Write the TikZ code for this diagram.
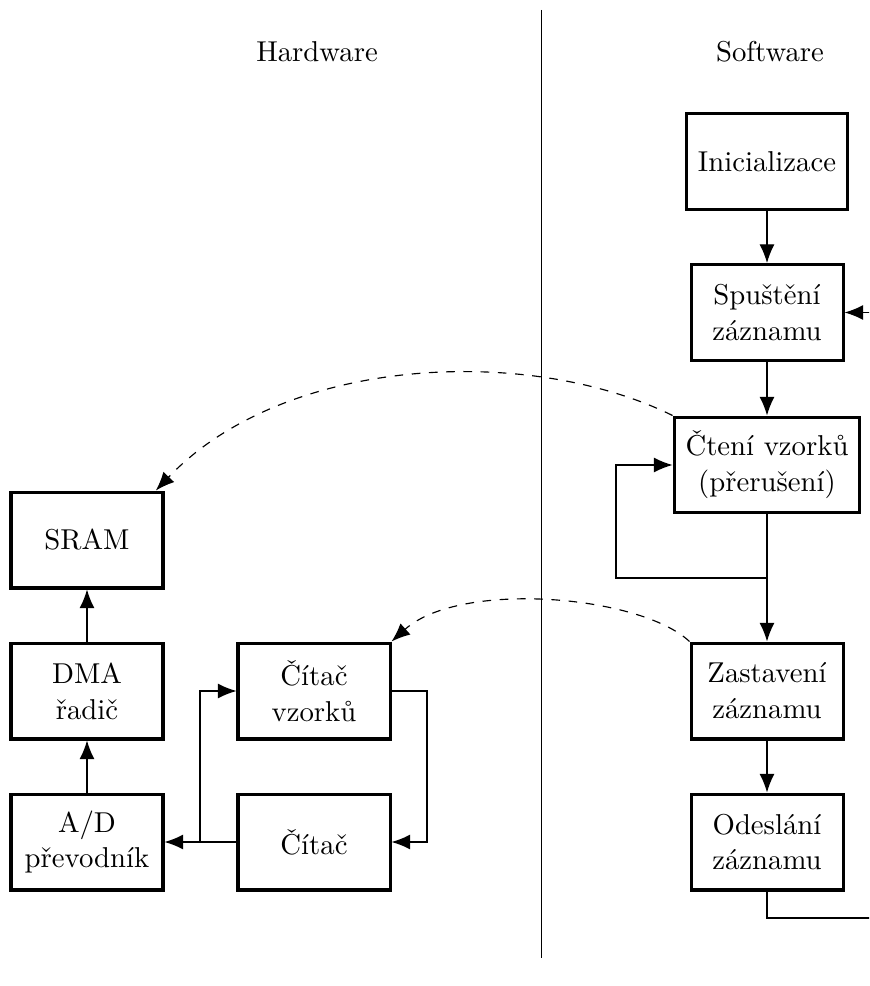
\documentclass[tikz,border=0pt]{standalone}
\usetikzlibrary{arrows.meta}
\begin{document}
\begin{tikzpicture}[x=0.348pt,y=-0.348pt,
  blok/.style={draw,line width=1.05pt,align=center,minimum width=52.9pt,minimum height=33.4pt,inner xsep=4pt,font=\fontsize{10}{12.5}\selectfont},
  sip/.style={-{Latex[length=6.5pt,width=5.2pt]},line width=0.4pt},
  cark/.style={dashed,line width=0.4pt,-{Latex[length=6.5pt,width=5.2pt]}}]
\clip (0,0) rectangle (869,986);
% divider
\coordinate (dtop) at (541,10);
\coordinate (dbot) at (541,958);
\draw[line width=0.35pt] (dtop) -- (dbot);
\node (hw) at (317,52) {Hardware};
\node (sw) at (770,52) {Software};
% software
\node[blok] (init) at (767,161.5) {Inicializace};
\node[blok] (spust) at (767,312.5) {Spuštění\\záznamu};
\node[blok] (cteni) at (767,465) {Čtení vzorků\\(přerušení)};
\node[blok] (zast) at (767,691) {Zastavení\\záznamu};
\node[blok] (odes) at (767,842) {Odeslání\\záznamu};
% hardware
\node[blok] (sram) at (87,540) {SRAM};
\node[blok] (dma) at (87,691) {DMA\\řadič};
\node[blok] (ad) at (87,842) {A/D\\převodník};
\node[blok] (cvz) at (314,691) {Čítač\\vzorků};
\node[blok] (cit) at (314,842) {Čítač};
% software connectors
\draw[sip] (init) -- (spust);
\draw[sip] (spust) -- (cteni);
\draw[sip] (cteni) -- (zast);
\draw[sip] (zast) -- (odes);
\coordinate (lp) at (767,578);
\draw[sip] (lp) -- (616,578) |- (cteni.west);
\coordinate (rt) at (885,918);
\draw[sip] (odes.south) |- (rt) |- (spust.east);
% hardware connectors
\draw[sip] (dma) -- (sram);
\draw[sip] (ad) -- (dma);
\draw[sip] (cit.west) -- (ad.east);
\coordinate (br) at (200,842);
\draw[sip] (br) |- (cvz.west);
\draw[sip] (cvz.east) -- (427,691) |- (cit.east);
% dashed
\draw[cark] (cteni.north west) .. controls (530,345) and (285,355) .. ([xshift=-3pt]sram.north east);
\draw[cark] (zast.north west) .. controls (640,595) and (460,580) .. (cvz.north east);
\end{tikzpicture}
\end{document}
